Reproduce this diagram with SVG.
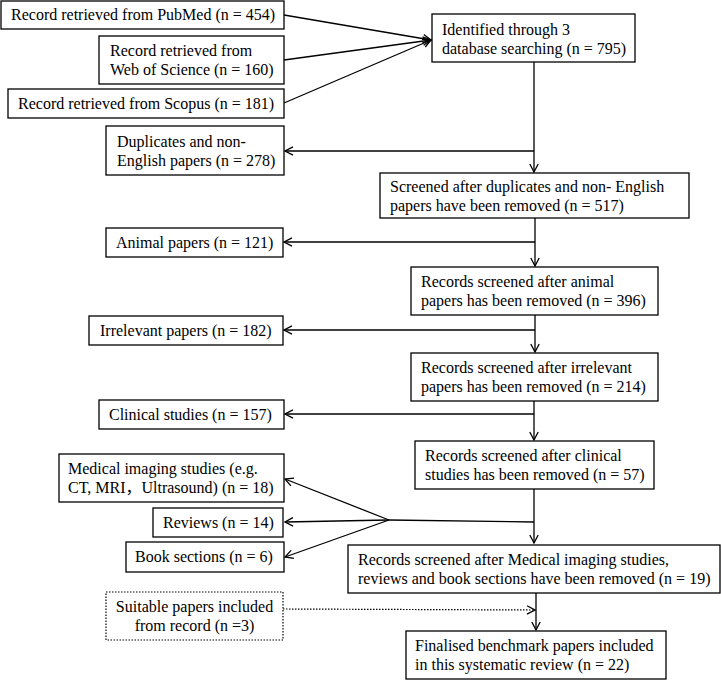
<svg xmlns="http://www.w3.org/2000/svg" width="721" height="680" viewBox="0 0 721 680">
<style>
.box{fill:#fff;stroke:#000;stroke-width:1.3}
.dot{fill:#fff;stroke:#000;stroke-width:1.2;stroke-dasharray:1.5 1.5}
.t{font-family:"Liberation Serif","Times New Roman","Noto Sans CJK SC",serif;font-size:16px;fill:#000}
.c{fill:none;stroke:#000;stroke-width:1.3}
.cd{fill:none;stroke:#000;stroke-width:1.2;stroke-dasharray:1.5 1.5}
</style>
<defs>
<marker id="ah" viewBox="0 0 10 10" refX="9" refY="5" markerWidth="10" markerHeight="10" markerUnits="userSpaceOnUse" orient="auto">
<path d="M1,0.8 L9,5 L1,9.2" fill="none" stroke="#000" stroke-width="1.3"/>
</marker>
</defs>
<g id="connectors">
<line class="c" x1="284" y1="15" x2="431" y2="40" marker-end="url(#ah)"/>
<line class="c" x1="284" y1="60" x2="431" y2="40" marker-end="url(#ah)"/>
<line class="c" x1="284" y1="103" x2="431" y2="40" marker-end="url(#ah)"/>
<line class="c" x1="534" y1="62" x2="534" y2="172" marker-end="url(#ah)"/>
<line class="c" x1="534" y1="151" x2="285" y2="151" marker-end="url(#ah)"/>
<line class="c" x1="535" y1="218" x2="535" y2="266" marker-end="url(#ah)"/>
<line class="c" x1="535" y1="242" x2="284" y2="242" marker-end="url(#ah)"/>
<line class="c" x1="535" y1="315" x2="535" y2="352" marker-end="url(#ah)"/>
<line class="c" x1="535" y1="330" x2="284" y2="330" marker-end="url(#ah)"/>
<line class="c" x1="534" y1="401" x2="534" y2="440" marker-end="url(#ah)"/>
<line class="c" x1="534" y1="414" x2="285" y2="414" marker-end="url(#ah)"/>
<line class="c" x1="534" y1="489" x2="534" y2="543" marker-end="url(#ah)"/>
<line class="c" x1="534" y1="522" x2="389" y2="520"/>
<line class="c" x1="389" y1="520" x2="285" y2="479" marker-end="url(#ah)"/>
<line class="c" x1="389" y1="520" x2="285" y2="522" marker-end="url(#ah)"/>
<line class="c" x1="389" y1="520" x2="285" y2="557" marker-end="url(#ah)"/>
<line class="c" x1="536" y1="593" x2="536" y2="630" marker-end="url(#ah)"/>
<line class="cd" x1="283" y1="609" x2="535" y2="610" marker-end="url(#ah)"/>
</g>
<g id="pubmed">
<rect class="box" x="1" y="1" width="283" height="28"/>
<text class="t" x="11" y="20">Record retrieved from PubMed (n = 454)</text>
</g>
<g id="wos">
<rect class="box" x="99" y="36" width="185" height="48"/>
<text class="t" x="110" y="56">Record retrieved from</text>
<text class="t" x="110" y="75">Web of Science (n = 160)</text>
</g>
<g id="scopus">
<rect class="box" x="8" y="89" width="276" height="29"/>
<text class="t" x="18" y="109">Record retrieved from Scopus (n = 181)</text>
</g>
<g id="identified">
<rect class="box" x="432" y="14" width="203" height="48"/>
<text class="t" x="442" y="35">Identified through 3</text>
<text class="t" x="442" y="54">database searching (n = 795)</text>
</g>
<g id="duplicates">
<rect class="box" x="106" y="126" width="178" height="49"/>
<text class="t" x="117" y="147">Duplicates and non-</text>
<text class="t" x="117" y="166">English papers (n = 278)</text>
</g>
<g id="screened517">
<rect class="box" x="380" y="173" width="309" height="45"/>
<text class="t" x="390" y="192">Screened after duplicates and non- English</text>
<text class="t" x="390" y="211">papers have been removed (n = 517)</text>
</g>
<g id="animal">
<rect class="box" x="106" y="228" width="177" height="29"/>
<text class="t" x="116" y="248">Animal papers (n = 121)</text>
</g>
<g id="screened396">
<rect class="box" x="411" y="267" width="247" height="48"/>
<text class="t" x="421" y="287">Records screened after animal</text>
<text class="t" x="421" y="306">papers has been removed (n = 396)</text>
</g>
<g id="irrelevant">
<rect class="box" x="89" y="316" width="194" height="29"/>
<text class="t" x="100" y="336">Irrelevant papers (n = 182)</text>
</g>
<g id="screened214">
<rect class="box" x="411" y="353" width="247" height="48"/>
<text class="t" x="421" y="373">Records screened after irrelevant</text>
<text class="t" x="421" y="392">papers has been removed (n = 214)</text>
</g>
<g id="clinical">
<rect class="box" x="99" y="400" width="185" height="29"/>
<text class="t" x="109" y="420">Clinical studies (n = 157)</text>
</g>
<g id="screened57">
<rect class="box" x="415" y="441" width="239" height="48"/>
<text class="t" x="425" y="461">Records screened after clinical</text>
<text class="t" x="425" y="480">studies has been removed (n = 57)</text>
</g>
<g id="imaging">
<rect class="box" x="59" y="454" width="225" height="48"/>
<text class="t" x="68" y="474">Medical imaging studies (e.g.</text>
<text class="t" x="68" y="493">CT, MRI，Ultrasound) (n = 18)</text>
</g>
<g id="reviews">
<rect class="box" x="153" y="508" width="130" height="29"/>
<text class="t" x="163" y="528">Reviews (n = 14)</text>
</g>
<g id="books">
<rect class="box" x="126" y="542" width="158" height="30"/>
<text class="t" x="135" y="562">Book sections (n = 6)</text>
</g>
<g id="screened19">
<rect class="box" x="348" y="545" width="372" height="48"/>
<text class="t" x="358" y="565">Records screened after Medical imaging studies,</text>
<text class="t" x="358" y="584">reviews and book sections have been removed (n = 19)</text>
</g>
<g id="suitable">
<rect class="dot" x="106" y="592" width="177" height="48"/>
<text class="t" x="194.5" y="612" text-anchor="middle">Suitable papers included</text>
<text class="t" x="194.5" y="631" text-anchor="middle">from record (n =3)</text>
</g>
<g id="final">
<rect class="box" x="406" y="631" width="260" height="48"/>
<text class="t" x="415" y="651">Finalised benchmark papers included</text>
<text class="t" x="415" y="670">in this systematic review (n = 22)</text>
</g>
</svg>
